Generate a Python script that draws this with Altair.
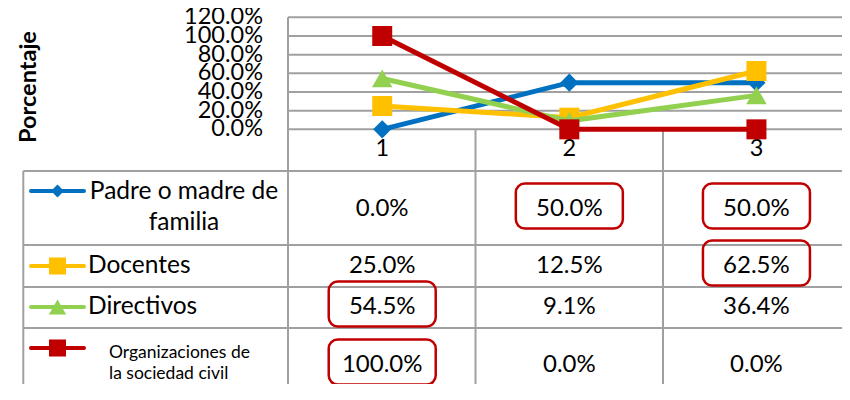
import altair as alt
import pandas as pd

# ---------------- data ----------------
categories = [1, 2, 3]
series_names = ["Padre o madre de familia", "Docentes", "Directivos",
                "Organizaciones de la sociedad civil"]
padre = [0.0, 0.5, 0.5]
docentes = [0.25, 0.125, 0.625]
directivos = [0.545, 0.091, 0.364]
organizaciones = [1.0, 0.0, 0.0]
series_values = [padre, docentes, directivos, organizaciones]
y_ticks = [0.0, 0.2, 0.4, 0.6, 0.8, 1.0, 1.2]
axis_title = "Porcentaje"

colors = ["#0070C0", "#FFC000", "#92D050", "#C00000"]
shapes = ["diamond", "square", "triangle-up", "square"]
sizes = [330, 400, 420, 400]
leg_sizes = [170, 290, 300, 290]

# ---------------- layout ----------------
PXX = 842 / 4.5          # pixels per category unit
PXY = 392 / 4.2          # pixels per 100 %
W, H = 834, 376
X0 = -1.0
X1 = X0 + W / PXX
Y1 = 1.3
Y0 = Y1 - H / PXY
BOTTOM = 8 + H           # last visible reference pixel row
FONT = "Lato"
GRID = "#a0a0a0"


def X(px):
    return X0 + (px - 8) / PXX


def Y(py):
    return Y1 - (py - 8) / PXY


xs = alt.Scale(domain=[X0, X1], nice=False, zero=False)
ys = alt.Scale(domain=[Y0, Y1], nice=False, zero=False)


def xe(f):
    return alt.X(f"{f}:Q", scale=xs, axis=None)


def ye(f):
    return alt.Y(f"{f}:Q", scale=ys, axis=None)


# grid & table lines
segs = []
for t in y_ticks:
    segs.append(dict(x=X(288), x2=X(8 + W), y=t, y2=t))
segs.append(dict(x=X(288), x2=X(288), y=Y(17.3), y2=Y(BOTTOM)))
for vx in [475.5, 663]:
    segs.append(dict(x=X(vx), x2=X(vx), y=0.0, y2=Y(BOTTOM)))
segs.append(dict(x=X(23.3), x2=X(23.3), y=Y(171), y2=Y(BOTTOM)))
for hy in [171, 245, 287, 328]:
    segs.append(dict(x=X(23.3), x2=X(8 + W), y=Y(hy), y2=Y(hy)))
rules = alt.Chart(pd.DataFrame(segs)).mark_rule(color=GRID, strokeWidth=2).encode(
    x=xe("x"), x2="x2:Q", y=ye("y"), y2="y2:Q")

layers = [rules]

# y tick labels
tick_df = pd.DataFrame({"v": y_ticks, "x": [X(263)] * len(y_ticks)})
layers.append(alt.Chart(tick_df).mark_text(align="right", baseline="middle", font=FONT,
                                           fontSize=23.5, color="#000").encode(
    x=xe("x"), y=ye("v"), text=alt.Text("v:Q", format=".1%")))

# category labels
cat_df = pd.DataFrame({"c": categories, "y": [Y(149)] * 3})
layers.append(alt.Chart(cat_df).mark_text(baseline="middle", font=FONT, fontSize=23.5,
                                          color="#000").encode(
    x=xe("c"), y=ye("y"), text="c:N"))

# axis title
layers.append(alt.Chart(pd.DataFrame({"t": [axis_title], "x": [X(29)], "y": [Y(87)]}))
              .mark_text(angle=270, baseline="middle", font=FONT, fontSize=23.5,
                         fontWeight="bold", color="#000")
              .encode(x=xe("x"), y=ye("y"), text="t:N"))

# series lines & markers
for i, vals in enumerate(series_values):
    d = pd.DataFrame({"c": categories, "v": vals})
    layers.append(alt.Chart(d).mark_line(color=colors[i], strokeWidth=5).encode(
        x=xe("c"), y=ye("v")))
    layers.append(alt.Chart(d).mark_point(shape=shapes[i], filled=True, size=sizes[i],
                                          color=colors[i], opacity=1).encode(
        x=xe("c"), y=ye("v")))

# table
row_text_y = [209, 266, 307, 365]
row_sym_y = [191, 266, 307, 348]
cells = []
for i, vals in enumerate(series_values):
    m = max(vals)
    for c, v in zip(categories, vals):
        cells.append(dict(c=c, v=v, y=Y(row_text_y[i]), hl=(v == m)))
cells = pd.DataFrame(cells)
layers.append(alt.Chart(cells).mark_text(baseline="middle", font=FONT, fontSize=24,
                                         color="#000").encode(
    x=xe("c"), y=ye("y"), text=alt.Text("v:Q", format=".1%")))

hw = (107 / 2) / PXX
hh = (45 / 2) / PXY
box = cells[cells["hl"]].copy()
box["yc"] = box["y"] + 3 / PXY
box["xa"] = box["c"] - hw
box["xb"] = box["c"] + hw
box["ya"] = box["yc"] - hh
box["yb"] = box["yc"] + hh
layers.append(alt.Chart(box).mark_rect(fillOpacity=0, stroke="#C00000", strokeWidth=2.5,
                                       cornerRadius=9).encode(
    x=xe("xa"), x2="xb:Q", y=ye("ya"), y2="yb:Q"))

# legend keys
for i in range(4):
    ly = Y(row_sym_y[i])
    seg = pd.DataFrame({"x": [X(31)], "x2": [X(84)], "y": [ly], "xm": [X(57.5)]})
    layers.append(alt.Chart(seg).mark_rule(color=colors[i], strokeWidth=4,
                                           strokeCap="round").encode(
        x=xe("x"), x2="x2:Q", y=ye("y")))
    layers.append(alt.Chart(seg).mark_point(shape=shapes[i], filled=True, size=leg_sizes[i],
                                            color=colors[i], opacity=1).encode(
        x=xe("xm"), y=ye("y")))

# legend labels
lab1 = pd.DataFrame({"t": ["Padre o madre de", "familia"], "x": [X(184), X(184)],
                     "y": [Y(192), Y(223)]})
layers.append(alt.Chart(lab1).mark_text(align="center", baseline="middle", font=FONT,
                                        fontSize=24.5, color="#000").encode(
    x=xe("x"), y=ye("y"), text="t:N"))
lab2 = pd.DataFrame({"t": [series_names[1], series_names[2]], "x": [X(88), X(88)],
                     "y": [Y(266), Y(307)]})
layers.append(alt.Chart(lab2).mark_text(align="left", baseline="middle", font=FONT,
                                        fontSize=24.5, color="#000").encode(
    x=xe("x"), y=ye("y"), text="t:N"))
lab3 = pd.DataFrame({"t": ["Organizaciones de", "la sociedad civil"], "x": [X(109), X(109)],
                     "y": [Y(353), Y(374)]})
layers.append(alt.Chart(lab3).mark_text(align="left", baseline="middle", font=FONT,
                                        fontSize=17.5, color="#000").encode(
    x=xe("x"), y=ye("y"), text="t:N"))

chart = alt.layer(*layers).properties(
    width=W, height=H, padding=0, autosize="none", background="white"
).configure_view(stroke=None)

chart.save("out.html", embed_options={"renderer": "svg", "actions": False})
